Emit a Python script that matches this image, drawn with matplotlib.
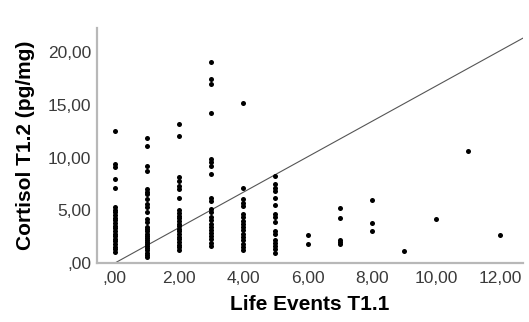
import numpy as np
import matplotlib.pyplot as plt
from matplotlib.ticker import FuncFormatter

plt.rcParams['font.family'] = ['Liberation Sans', 'DejaVu Sans']

# Cortisol values per number of life events
cortisol_by_events = {
    0: [12.5, 9.4, 9.1, 8.0, 7.1, 5.3, 5.05, 4.8, 4.55, 4.3, 4.05, 3.8, 3.55, 3.3,
        3.05, 2.8, 2.55, 2.3, 2.05, 1.8, 1.55, 1.3, 1.06],
    1: [11.9, 11.1, 9.2, 8.75, 7.0, 6.7, 6.55, 6.1, 5.6, 5.3, 4.8, 4.2, 3.9, 3.4,
        3.2, 3.0, 2.8, 2.6, 2.4, 2.2, 2.0, 1.8, 1.6, 1.4, 1.2, 1.0, 0.8, 0.6],
    2: [13.2, 12.1, 8.2, 7.8, 7.35, 7.0, 6.2, 5.0, 4.75, 4.5, 4.25, 4.0, 3.75,
        3.5, 3.25, 3.0, 2.75, 2.5, 2.25, 2.0, 1.75, 1.5, 1.2],
    3: [19.1, 17.5, 17.0, 14.2, 9.9, 9.6, 9.2, 8.45, 6.2, 5.9, 5.1, 4.85, 4.35,
        4.05, 3.75, 3.45, 3.15, 2.85, 2.55, 2.25, 1.95, 1.65],
    4: [15.2, 7.1, 6.1, 5.7, 5.4, 4.7, 4.35, 4.0, 3.7, 3.4, 3.1, 2.8, 2.5, 2.15,
        1.85, 1.5, 1.2],
    5: [8.3, 7.5, 7.15, 6.8, 6.2, 5.5, 4.7, 4.35, 3.9, 3.05, 2.8, 2.2, 1.9, 1.6,
        1.3, 1.0],
    6: [2.65, 1.85],
    7: [5.2, 4.25, 2.15, 2.0, 1.85],
    8: [6.0, 3.8, 3.05],
    9: [1.1],
    10: [4.2],
    11: [10.6],
    12: [2.7],
}

life_events = []
cortisol = []
for k, vals in cortisol_by_events.items():
    life_events += [k] * len(vals)
    cortisol += vals
life_events = np.array(life_events, dtype=float)
cortisol = np.array(cortisol)

line_slope = 1.68
x_ticks = [0, 2, 4, 6, 8, 10, 12]
y_ticks = [0, 5, 10, 15, 20]


def comma_fmt(v, pos=None):
    s = f"{v:.2f}".replace('.', ',')
    if s.startswith('0,'):
        s = s[1:]
    return s


fig = plt.figure(figsize=(5.29, 3.22), dpi=100)
ax = fig.add_axes([0.183, 0.183, 0.806, 0.730])

ax.scatter(life_events, cortisol, s=13, color='black', linewidths=0, zorder=3)

xs = np.array([0, 13])
ax.plot(xs, line_slope * xs, color='#555555', lw=0.8, zorder=2)

ax.set_xlim(-0.56, 12.71)
ax.set_ylim(0.14, 22.3)
ax.set_xticks(x_ticks)
ax.set_yticks(y_ticks)
ax.xaxis.set_major_formatter(FuncFormatter(comma_fmt))
ax.yaxis.set_major_formatter(FuncFormatter(comma_fmt))
ax.tick_params(length=0, labelsize=12.5, colors='#3a3a3a')
ax.tick_params(axis='x', pad=6)
ax.tick_params(axis='y', pad=4)

for side in ['top', 'right']:
    ax.spines[side].set_visible(False)
for side in ['left', 'bottom']:
    ax.spines[side].set_color('#b8b8b8')
    ax.spines[side].set_linewidth(1.6)

ax.set_xlabel('Life Events T1.1', fontsize=15, fontweight='bold', labelpad=6)
ax.set_ylabel('Cortisol T1.2 (pg/mg)', fontsize=15, fontweight='bold', labelpad=9)

fig.savefig('out.png', dpi=100)
